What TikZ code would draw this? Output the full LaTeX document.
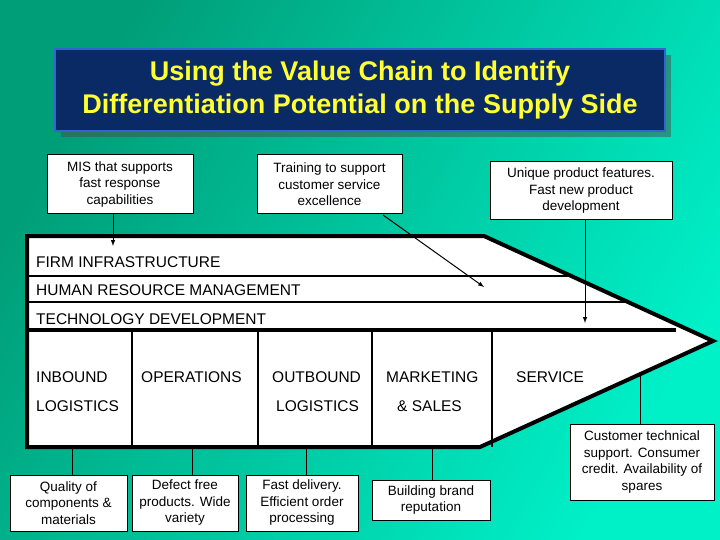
\documentclass[tikz,border=0pt]{standalone}
\usepackage{fontspec}
\setmainfont{Liberation Sans}
\definecolor{navy}{HTML}{0A2A66}
\definecolor{tborder}{HTML}{3366CC}
\definecolor{tyellow}{HTML}{FFFF33}
\definecolor{bgA}{HTML}{009E78}
\definecolor{bgB}{HTML}{00F0C8}
\begin{document}
\begin{tikzpicture}[x=1pt,y=-1pt,
  callout/.style={draw=black,line width=1pt,fill=white,align=center,font=\fontsize{13.5}{16.5}\selectfont,inner sep=1pt},
  lbl/.style={anchor=west,font=\fontsize{15.5}{18}\selectfont,inner sep=0pt},
  thick line/.style={line width=4pt},
  conn/.style={line width=1pt},
  arr/.style={line width=1pt,-latex}]
\shade[left color=bgA,right color=bgB,shading angle=60] (0,0) rectangle (720,540);
\useasboundingbox (0,0) rectangle (720,540);
% title
\fill[gray!60!black,opacity=0.5] (61,55) rectangle (671,137);
\node[draw=tborder,line width=2.5pt,fill=navy,minimum width=610pt,minimum height=82pt,inner sep=0pt,align=center,text=tyellow,font=\bfseries\fontsize{27}{33}\selectfont] (title) at (360,90) {Using the Value Chain to Identify\\Differentiation Potential on the Supply Side};
% chain
\fill[white] (27,236) -- (484,236) -- (713,341) -- (480,447) -- (27,447) -- cycle;
\coordinate (h1l) at (27,276); \coordinate (h1r) at (571,276);
\coordinate (h2l) at (27,302); \coordinate (h2r) at (628,302);
\coordinate (h3l) at (27,330); \coordinate (h3r) at (676,330);
\draw[line width=1.5pt] (h1l) -- (h1r);
\draw[line width=1.5pt] (h2l) -- (h2r);
\draw[thick line] (h3l) -- (h3r);
\foreach \x in {132,258,372,492}{\draw[line width=1.3pt] (\x,330) -- (\x,447);}
\draw[thick line,line join=miter] (484,236) -- (27,236) -- (27,447) -- (480,447) -- (713,341) -- (484,236) -- (480,236);
\node[lbl] (fi) at (36,262) {FIRM INFRASTRUCTURE};
\node[lbl] (hr) at (36,290) {HUMAN RESOURCE MANAGEMENT};
\node[lbl] (td) at (36,319) {TECHNOLOGY DEVELOPMENT};
\node[lbl] (p1) at (36,377) {INBOUND};
\node[lbl] (p1b) at (36,406) {LOGISTICS};
\node[lbl] (p2) at (141,377) {OPERATIONS};
\node[lbl] (p3) at (272,377) {OUTBOUND};
\node[lbl] (p3b) at (276,406) {LOGISTICS};
\node[lbl] (p4) at (386,377) {MARKETING};
\node[lbl] (p4b) at (397,406) {\&~SALES};
\node[lbl] (p5) at (516,377) {SERVICE};
% top callouts
\node[callout,minimum width=146pt,minimum height=59pt] (mis) at (120,184.5) {MIS that supports\\fast response\\capabilities};
\node[callout,minimum width=145pt,minimum height=59pt] (trn) at (329.5,184.5) {Training to support\\customer service\\excellence};
\node[callout,minimum width=182pt,minimum height=58pt] (uni) at (581,191) {Unique product features.\\Fast new product\\development};
\coordinate (misE) at (113,246);
\coordinate (trnE) at (484,287);
\coordinate (uniE) at (585,323);
\draw[arr] (mis.south -| misE) -- (misE);
\draw[arr] (383,215) -- (trnE);
\draw[arr] (uni.south -| uniE) -- (uniE);
% bottom callouts
\node[callout,minimum width=117pt,minimum height=56pt] (q) at (68.5,503) {Quality of\\components \&\\materials};
\node[callout,minimum width=106pt,minimum height=56pt] (d) at (185,503) {Defect free\\products. Wide\\variety};
\node[callout,minimum width=112pt,minimum height=56pt] (f) at (302,503) {Fast delivery.\\Efficient order\\processing};
\node[callout,minimum width=118pt,minimum height=40pt] (b) at (431,500) {Building brand\\reputation};
\node[callout,minimum width=144pt,minimum height=76pt] (c) at (642,462) {Customer technical\\support. Consumer\\credit. Availability of\\spares};
\draw[conn] (72,449) -- (q.north -| 72,0);
\draw[conn] (192,449) -- (d.north -| 192,0);
\draw[conn] (306,449) -- (f.north -| 306,0);
\draw[conn] (432,449) -- (b.north -| 432,0);
\draw[conn] (640,375) -- (c.north -| 640,0);
\end{tikzpicture}
\end{document}
